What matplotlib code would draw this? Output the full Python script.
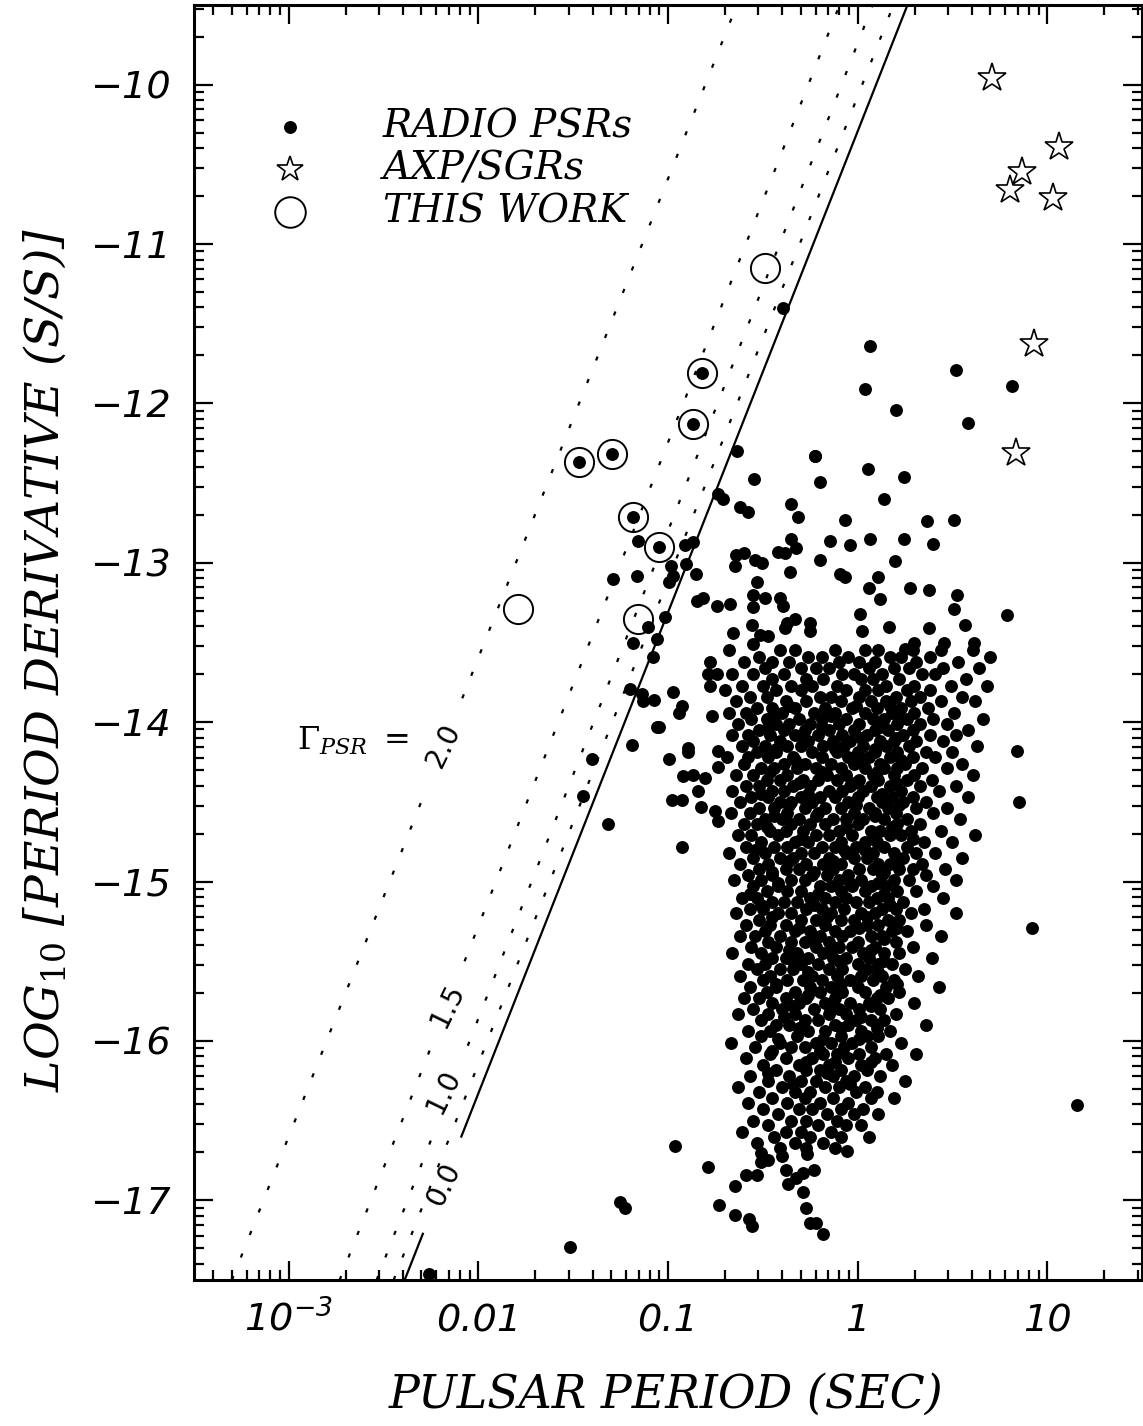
import numpy as np
import matplotlib.pyplot as plt
from matplotlib.ticker import FixedLocator, NullFormatter, LogLocator

plt.rcParams['mathtext.fontset'] = 'custom'
plt.rcParams['mathtext.rm'] = 'DejaVu Serif'
plt.rcParams['mathtext.it'] = 'DejaVu Serif:italic'
plt.rcParams['mathtext.sf'] = 'DejaVu Sans:italic'

# --- AXP / SGRs (log10 P, log10 Pdot) ---
axp_logp = [0.707, 1.063, 0.867, 0.804, 1.032, 0.932, 0.837]
axp_logpdot = [-9.96, -10.39, -10.55, -10.66, -10.71, -11.63, -12.31]

# --- this work ---
work_logp = [-0.489, -0.823, -0.867, -1.472, -1.293, -1.183, -1.047, -1.791, -1.159]
work_logpdot = [-11.15, -11.81, -12.13, -12.37, -12.32, -12.71, -12.90, -13.29, -13.35]

# --- radio pulsars, isolated ones ---
iso_logp = [-0.823, -0.867, -1.472, -1.293, -1.183, -1.047,
            -0.393, 0.063, 0.037, 0.521, 0.816, 0.205, 0.584, -0.635, -0.226,
            -0.546, -0.735, -0.712, -0.621, -0.577, -0.353, -0.314, -0.870,
            -0.911, -1.156, -0.986, -0.972, -0.993, -0.907, -0.853, -1.165,
            -1.288, -0.642, -0.600, -0.542, -0.502, -0.646, -0.533, -0.419,
            -0.381, -0.349, -0.323, -0.358, -0.849, -0.814, -0.741, -0.674,
            -0.554, -0.551, -0.489, -0.411, -0.393, -1.016, -1.104, -1.059,
            -1.186, -0.656, -0.556, -0.516, -0.472, -0.551, -0.375, -0.384,
            -0.332, -1.081, -1.200, -1.138, -1.130, -1.072, -0.972, -0.928,
            -0.942, -1.059, -1.047, -1.188, -0.993, -0.893, -0.896, -1.402,
            -0.919, -0.870, -0.805, -0.844, -0.981, -0.925, -0.828, -1.446,
            -1.319, -0.928, -0.779, -0.788, -0.744, -0.779, -0.770, -0.735,
            -0.735, -0.753, -0.735,
            0.789, 0.568, 0.842, 0.853, 0.921, 1.158, -0.963, -1.253, -1.226,
            -1.516, -2.263,
            -0.226, 0.053, 0.247, 0.368, 0.400, -0.068, 0.063, 0.195, 0.274,
            0.116, -0.095, -0.200, 0.510, 0.379, 0.011, -0.253,
            -0.147, -0.042, 0.247, -0.068, 0.105, 0.379, 0.526, -0.253,
            0.021, 0.168, 0.300, 0.458, 0.616,
            -0.200, 0.140, 0.510, 0.060, 0.250,
            -0.790, -0.730, -0.647, -0.647, -0.586, -0.572, -0.556, -0.530,
            -0.507, -0.472, -0.510, -0.400, -0.379, -0.367, -0.323, -0.288,
            -0.267, -0.288, -0.274, -0.253, -0.217, -0.182, -0.232, -0.056]
iso_logpdot = [-11.81, -12.13, -12.37, -12.32, -12.71, -12.90,
               -11.40, -11.64, -11.91, -11.79, -11.89, -12.04, -12.12, -12.30, -12.33,
               -12.475, -12.57, -12.60, -12.65, -12.68, -12.63, -12.71, -12.87,
               -12.89, -12.86, -13.02, -13.08, -13.12, -13.01, -13.07, -13.08,
               -13.10, -12.95, -12.94, -12.98, -13.00, -13.02, -13.12, -12.93,
               -12.94, -12.85, -12.91, -13.06, -13.24, -13.22, -13.27, -13.26,
               -13.28, -13.20, -13.22, -13.22, -13.27, -13.34, -13.40, -13.48,
               -13.50, -13.44, -13.39, -13.45, -13.46, -13.51, -13.38, -13.41,
               -13.35, -13.59, -13.79, -13.82, -13.87, -13.86, -13.81, -13.90,
               -13.94, -14.03, -14.03, -14.14, -14.23, -14.16, -14.19, -14.23,
               -14.34, -14.33, -14.35, -14.43, -14.49, -14.49, -14.53, -14.46,
               -14.64, -14.78, -13.62, -13.70, -13.70, -13.77, -13.96, -14.18,
               -14.28, -14.56, -14.62,
               -13.33, -13.39, -14.18, -14.50, -15.29, -16.40, -16.66, -17.01, -17.05,
               -17.29, -17.46,
               -12.33, -12.41, -12.46, -12.74, -12.88, -12.73, -12.85, -12.99, -13.16,
               -13.23, -13.07, -12.98, -13.29, -13.41, -13.32, -13.38,
               -12.86, -12.89, -12.85, -13.09, -13.09, -13.17, -13.20, -13.43,
               -13.43, -13.40, -13.50, -13.50, -13.50,
               -12.49, -12.60, -12.73, -13.16, -13.54,
               -16.79, -17.03, -16.91, -17.09, -16.84, -17.12, -17.16, -16.84,
               -16.76, -16.75, -16.70, -16.72, -16.81, -16.90, -16.86, -16.83,
               -16.71, -16.95, -17.05, -17.14, -17.14, -17.21, -16.81, -16.69]

# --- radio pulsars, main cluster: rows of (log10 Pdot, [log10 P ...]) ---
cluster_rows = [
    (-13.55, [-0.68, -0.41, -0.33, -0.12, 0.04, 0.11, 0.29, 0.44, 0.61]),
    (-13.59, [-0.52, -0.26, -0.19, -0.05, 0.17, 0.23, 0.38, 0.70]),
    (-13.62, [-0.60, -0.45, -0.36, -0.10, 0.01, 0.09, 0.31, 0.53]),
    (-13.66, [-0.49, -0.30, -0.22, -0.15, 0.06, 0.19, 0.27, 0.45, 0.64]),
    (-13.70, [-0.66, -0.55, -0.39, -0.08, -0.02, 0.13, 0.34, 0.41]),
    (-13.73, [-0.45, -0.27, -0.18, 0.02, 0.08, 0.22, 0.57]),
    (-13.77, [-0.61, -0.50, -0.35, -0.24, -0.11, 0.15, 0.30, 0.49, 0.68]),
    (-13.80, [-0.70, -0.43, -0.30, -0.06, 0.04, 0.11, 0.26, 0.38]),
    (-13.84, [-0.57, -0.48, -0.20, -0.14, 0.01, 0.20, 0.33, 0.55]),
    (-13.87, [-0.64, -0.38, -0.27, -0.09, 0.07, 0.15, 0.28, 0.44, 0.62]),
    (-13.91, [-0.53, -0.45, -0.33, -0.17, -0.03, 0.10, 0.23, 0.37]),
    (-13.94, [-0.68, -0.59, -0.40, -0.23, -0.12, 0.04, 0.18, 0.30, 0.51]),
    (-13.98, [-0.56, -0.48, -0.31, -0.19, -0.06, 0.08, 0.14, 0.26, 0.40, 0.66]),
    (-14.01, [-0.63, -0.43, -0.36, -0.25, -0.10, 0.01, 0.21, 0.33, 0.47]),
    (-14.05, [-0.52, -0.39, -0.28, -0.15, -0.02, 0.09, 0.16, 0.29, 0.58]),
    (-14.08, [-0.66, -0.58, -0.46, -0.33, -0.21, -0.08, 0.05, 0.24, 0.38, 0.52]),
    (-14.12, [-0.55, -0.41, -0.26, -0.13, -0.04, 0.12, 0.19, 0.31, 0.45]),
    (-14.15, [-0.61, -0.49, -0.37, -0.30, -0.18, -0.07, 0.03, 0.15, 0.27, 0.63]),
    (-14.19, [-0.53, -0.43, -0.24, -0.11, 0.00, 0.09, 0.21, 0.36, 0.50]),
    (-14.22, [-0.69, -0.58, -0.47, -0.34, -0.19, -0.05, 0.06, 0.17, 0.29, 0.41]),
    (-14.26, [-0.60, -0.39, -0.28, -0.14, -0.02, 0.12, 0.25, 0.55]),
    (-14.29, [-0.51, -0.44, -0.32, -0.22, -0.09, 0.04, 0.14, 0.21, 0.34, 0.47]),
    (-14.33, [-0.64, -0.55, -0.37, -0.16, -0.06, 0.08, 0.19, 0.30, 0.61]),
    (-14.36, [-0.48, -0.41, -0.29, -0.21, -0.11, 0.01, 0.11, 0.26, 0.39]),
    (-14.40, [-0.59, -0.52, -0.34, -0.25, -0.04, 0.07, 0.17, 0.33, 0.52]),
    (-14.43, [-0.66, -0.45, -0.39, -0.15, -0.08, 0.03, 0.23, 0.43]),
    (-14.47, [-0.56, -0.47, -0.30, -0.20, -0.12, 0.00, 0.10, 0.18, 0.29, 0.58]),
    (-14.50, [-0.62, -0.41, -0.35, -0.24, -0.05, 0.13, 0.24, 0.36]),
    (-14.54, [-0.52, -0.44, -0.28, -0.17, -0.09, 0.06, 0.16, 0.31, 0.47]),
    (-14.57, [-0.67, -0.57, -0.37, -0.21, -0.02, 0.09, 0.20, 0.40]),
    (-14.61, [-0.49, -0.40, -0.31, -0.13, -0.06, 0.03, 0.14, 0.26, 0.54]),
    (-14.64, [-0.60, -0.53, -0.35, -0.25, -0.17, 0.00, 0.21, 0.33]),
    (-14.68, [-0.46, -0.38, -0.29, -0.10, 0.07, 0.12, 0.28, 0.44]),
    (-14.71, [-0.63, -0.56, -0.42, -0.22, -0.15, -0.03, 0.17, 0.23, 0.62]),
    (-14.75, [-0.51, -0.33, -0.26, -0.09, 0.04, 0.10, 0.35, 0.50]),
    (-14.78, [-0.59, -0.44, -0.37, -0.19, -0.12, -0.01, 0.14, 0.26]),
    (-14.82, [-0.68, -0.49, -0.30, -0.23, -0.06, 0.08, 0.19, 0.31, 0.41]),
    (-14.85, [-0.55, -0.41, -0.34, -0.15, -0.02, 0.05, 0.24, 0.55]),
    (-14.89, [-0.62, -0.47, -0.27, -0.18, -0.09, 0.11, 0.17, 0.34]),
    (-14.92, [-0.52, -0.38, -0.31, -0.13, 0.01, 0.08, 0.22, 0.29, 0.46]),
    (-14.96, [-0.58, -0.45, -0.24, -0.16, -0.05, 0.13, 0.36]),
    (-14.99, [-0.65, -0.51, -0.35, -0.28, -0.10, 0.02, 0.19, 0.27, 0.52]),
    (-15.03, [-0.55, -0.42, -0.20, -0.14, -0.03, 0.07, 0.15, 0.40]),
    (-15.06, [-0.48, -0.37, -0.30, -0.09, 0.04, 0.21, 0.31]),
    (-15.10, [-0.61, -0.53, -0.25, -0.17, -0.06, 0.10, 0.16, 0.45]),
    (-15.13, [-0.45, -0.39, -0.32, -0.12, -0.01, 0.06, 0.24]),
    (-15.17, [-0.57, -0.50, -0.27, -0.19, -0.07, 0.13, 0.20, 0.35]),
    (-15.20, [-0.64, -0.42, -0.35, -0.14, 0.02, 0.09, 0.28, 0.52]),
    (-15.24, [-0.52, -0.30, -0.22, -0.09, -0.02, 0.16, 0.22]),
    (-15.27, [-0.59, -0.46, -0.38, -0.17, 0.05, 0.11, 0.36]),
    (-15.31, [-0.49, -0.33, -0.25, -0.12, -0.04, 0.18, 0.26]),
    (-15.34, [-0.62, -0.54, -0.41, -0.20, -0.08, 0.07, 0.13, 0.44]),
    (-15.38, [-0.47, -0.35, -0.28, -0.15, 0.00, 0.20]),
    (-15.41, [-0.56, -0.43, -0.22, -0.10, -0.03, 0.09, 0.29]),
    (-15.45, [-0.66, -0.51, -0.32, -0.18, 0.03, 0.14, 0.22]),
    (-15.48, [-0.45, -0.38, -0.26, -0.13, -0.06, 0.06, 0.39]),
    (-15.52, [-0.58, -0.49, -0.30, -0.21, 0.00, 0.11, 0.18]),
    (-15.55, [-0.53, -0.41, -0.34, -0.15, -0.08, 0.05, 0.25]),
    (-15.59, [-0.62, -0.46, -0.24, -0.11, 0.02, 0.13, 0.32]),
    (-15.62, [-0.50, -0.37, -0.29, -0.19, -0.04, 0.08, 0.19]),
    (-15.66, [-0.57, -0.43, -0.25, -0.14, 0.00, 0.15, 0.43]),
    (-15.69, [-0.48, -0.33, -0.20, -0.08, 0.04, 0.22]),
    (-15.73, [-0.60, -0.52, -0.38, -0.27, -0.12, 0.10, 0.16]),
    (-15.76, [-0.45, -0.31, -0.17, -0.04, 0.06, 0.30]),
    (-15.80, [-0.55, -0.40, -0.23, -0.10, 0.01, 0.12]),
    (-15.83, [-0.63, -0.47, -0.33, -0.15, -0.06, 0.20]),
    (-15.87, [-0.51, -0.28, -0.21, -0.01, 0.07, 0.14]),
    (-15.90, [-0.43, -0.36, -0.12, -0.05, 0.10, 0.36]),
    (-15.94, [-0.58, -0.46, -0.26, -0.17, 0.02, 0.17]),
    (-15.97, [-0.51, -0.32, -0.09, 0.05, 0.11]),
    (-16.01, [-0.67, -0.41, -0.22, -0.14, -0.03, 0.23]),
    (-16.04, [-0.54, -0.35, -0.28, -0.07, 0.07]),
    (-16.08, [-0.46, -0.18, -0.11, 0.01, 0.15, 0.31]),
    (-16.11, [-0.59, -0.38, -0.24, -0.05, 0.09]),
    (-16.15, [-0.50, -0.31, -0.15, 0.02, 0.18]),
    (-16.18, [-0.43, -0.27, -0.20, -0.09, 0.05]),
    (-16.22, [-0.57, -0.36, -0.13, -0.02, 0.12]),
    (-16.25, [-0.47, -0.30, -0.22, -0.06, 0.25]),
    (-16.29, [-0.63, -0.40, -0.17, -0.10, 0.04]),
    (-16.32, [-0.52, -0.33, -0.25, -0.01, 0.10]),
    (-16.36, [-0.45, -0.28, -0.13, 0.07, 0.19]),
    (-16.39, [-0.58, -0.37, -0.20, -0.05]),
    (-16.43, [-0.50, -0.31, -0.24, -0.09, 0.03]),
    (-16.46, [-0.42, -0.16, -0.02, 0.11]),
    (-16.50, [-0.55, -0.35, -0.27, -0.11]),
    (-16.53, [-0.47, -0.21, -0.06, 0.02]),
    (-16.57, [-0.61, -0.38, -0.30, -0.14]),
    (-16.60, [-0.44, -0.25, -0.09, 0.06]),
    (-16.64, [-0.53, -0.33, -0.18]),
    (-16.67, [-0.41, -0.27, -0.12]),
    # denser core
    (-13.90, [-0.36, -0.01, 0.17]),
    (-13.96, [-0.44, -0.14, 0.22]),
    (-14.03, [-0.47, -0.19, 0.12]),
    (-14.10, [-0.29, 0.02, 0.20]),
    (-14.17, [-0.43, -0.12, 0.09]),
    (-14.24, [-0.33, 0.00, 0.23]),
    (-14.31, [-0.46, -0.19, 0.10]),
    (-14.38, [-0.31, -0.02, 0.20]),
    (-14.45, [-0.51, -0.26, 0.13]),
    (-14.52, [-0.36, -0.01, 0.22]),
    (-14.59, [-0.44, -0.22, 0.09]),
    (-14.66, [-0.48, -0.06, 0.18]),
    (-14.73, [-0.30, 0.08, 0.29]),
    (-14.80, [-0.54, -0.07, 0.04]),
    (-14.87, [-0.36, -0.13, 0.21]),
    (-14.94, [-0.45, -0.23, 0.14]),
    (-15.01, [-0.42, -0.04, 0.11]),
    (-15.08, [-0.57, -0.21, 0.14]),
    (-15.15, [-0.51, -0.23, 0.17]),
    (-15.22, [-0.45, -0.16, 0.05]),
    (-15.29, [-0.31, 0.01, 0.21]),
    (-15.36, [-0.24, 0.14]),
    (-15.43, [-0.36, -0.14, 0.07]),
    (-15.50, [-0.34, -0.10, 0.14]),
    (-15.57, [-0.26, 0.11]),
    (-15.64, [-0.43, -0.09, 0.21]),
    (-15.71, [-0.26, 0.12]),
    (-15.78, [-0.34, -0.15, 0.07]),
    (-15.85, [-0.39, 0.02]),
    (-15.92, [-0.31, -0.09, 0.10]),
    (-15.99, [-0.42, -0.18, 0.01]),
    (-16.06, [-0.45, -0.20]),
    (-16.13, [-0.27, -0.12, 0.07]),
    (-16.20, [-0.47, -0.16]),
    (-16.27, [-0.34, -0.04]),
]

# --- Gamma_PSR lines: segments of (log10 P start, end), (log10 Pdot start, end) ---
line_20_logp = [[-3.300, -2.285], [-2.085, -0.637]]
line_20_logpdot = [[-17.50, -14.45], [-13.85, -9.50]]
line_15_logp = [[-2.732, -2.254], [-2.073, -0.095]]
line_15_logpdot = [[-17.50, -16.05], [-15.50, -9.50]]
line_10_logp = [[-2.537, -2.243], [-2.056, 0.079]]
line_10_logpdot = [[-17.50, -16.60], [-16.03, -9.50]]
line_05_logp = [[-2.447, 0.189]]
line_05_logpdot = [[-17.50, -9.50]]
line_00_logp = [[-2.389, -2.293], [-2.090, 0.263]]
line_00_logpdot = [[-17.50, -17.21], [-16.60, -9.50]]

line_labels = ['2.0', '1.5', '1.0', '0.0']
label_logp = [-2.184, -2.164, -2.183, -2.185]
label_logpdot = [-14.15, -15.78, -16.32, -16.90]

# --- build arrays ---
radio_logp = list(iso_logp)
radio_logpdot = list(iso_logpdot)
for yv, xs in cluster_rows:
    radio_logp += xs
    radio_logpdot += [yv] * len(xs)
radio_logp = np.array(radio_logp)
radio_logpdot = np.array(radio_logpdot)

fig = plt.figure(figsize=(11.43, 14.26), dpi=100)
ax = fig.add_axes([194 / 1143, 1 - 1280 / 1426, 948 / 1143, 1275 / 1426])
ax.set_xscale('log')
ax.set_xlim(10 ** -3.5, 10 ** 1.5)
ax.set_ylim(-17.5, -9.5)

# lines
for segs_x, segs_y, ls in [(line_20_logp, line_20_logpdot, 'dot'),
                           (line_15_logp, line_15_logpdot, 'dot'),
                           (line_10_logp, line_10_logpdot, 'dot'),
                           (line_05_logp, line_05_logpdot, 'dot'),
                           (line_00_logp, line_00_logpdot, 'solid')]:
    for sx, sy in zip(segs_x, segs_y):
        if ls == 'dot':
            ax.plot(10 ** np.array(sx), sy, color='k', lw=1.6,
                    linestyle=(0, (1.9, 9.0)), dash_capstyle='butt')
        else:
            ax.plot(10 ** np.array(sx), sy, color='k', lw=1.6)

for lab, lx, ly in zip(line_labels, label_logp, label_logpdot):
    ax.text(10 ** lx, ly, lab, rotation=64, ha='center', va='center',
            rotation_mode='anchor', fontsize=20, family='DejaVu Sans')

ax.text(0.1087, 0.4157, r'$\Gamma_{PSR}\ =$', transform=ax.transAxes,
        ha='left', va='baseline', fontsize=23)

# points
ax.plot(10 ** radio_logp, radio_logpdot, 'o', ms=9.3, mfc='k', mec='k',
        mew=0, ls='none')
ax.plot(10 ** np.array(axp_logp), axp_logpdot, '*', ms=21, mfc='white',
        mec='k', mew=1.2, ls='none')
ax.plot(10 ** np.array(work_logp), work_logpdot, 'o', ms=21, mfc='none',
        mec='k', mew=1.4, ls='none')

# legend, drawn by hand
leg_y = [0.9043, 0.8714, 0.8376]
ax.plot([0.1013], [leg_y[0]], 'o', ms=9.3, mfc='k', mec='k', mew=0,
        transform=ax.transAxes)
ax.plot([0.1013], [leg_y[1]], '*', ms=19, mfc='white', mec='k', mew=1.2,
        transform=ax.transAxes)
ax.plot([0.1013], [leg_y[2]], 'o', ms=22, mfc='none', mec='k', mew=1.4,
        transform=ax.transAxes)
for yy, txt in zip(leg_y, ['RADIO PSRs', 'AXP/SGRs', 'THIS WORK']):
    ax.text(0.1994, yy, txt, transform=ax.transAxes, ha='left', va='center',
            fontsize=28, family='DejaVu Serif', style='italic')

# ticks
ax.yaxis.set_major_locator(FixedLocator(np.arange(-17, -9)))
minor_y = [n + np.log10(k) for n in range(-18, -9) for k in range(2, 10)]
ax.yaxis.set_minor_locator(FixedLocator(minor_y))
ax.set_yticklabels(['\u2212%d' % abs(v) for v in np.arange(-17, -9)])

ax.xaxis.set_major_locator(FixedLocator([1e-3, 1e-2, 1e-1, 1, 10]))
ax.xaxis.set_minor_locator(LogLocator(base=10, subs=np.arange(2, 10)))
ax.xaxis.set_minor_formatter(NullFormatter())
ax.set_xticklabels([r'$\mathsf{10^{-3}}$', '0.01', '0.1', '1', '10'])

ax.tick_params(which='both', direction='in', top=True, right=True, width=1.6)
ax.tick_params(which='major', length=14)
ax.tick_params(which='minor', length=7)
ax.tick_params(axis='y', pad=16)
ax.tick_params(axis='x', pad=37)
for lab in ax.get_xticklabels() + ax.get_yticklabels():
    lab.set_fontfamily('DejaVu Sans')
    lab.set_style('italic')
    lab.set_fontsize(27.5)
for lab in ax.get_xticklabels():
    lab.set_va('baseline')
for sp in ax.spines.values():
    sp.set_linewidth(2.2)

fig.text(666 / 1143, 1 - 1395 / 1426, 'PULSAR PERIOD (SEC)', ha='center',
         va='center', fontsize=33, family='DejaVu Serif', style='italic')
fig.text(45 / 1143, 1 - 660 / 1426, r'$LOG_{10}$ [PERIOD DERIVATIVE (S/S)]',
         ha='center', va='center', rotation=90, fontsize=34,
         family='DejaVu Serif', style='italic')

fig.savefig('out.png', dpi=100)
